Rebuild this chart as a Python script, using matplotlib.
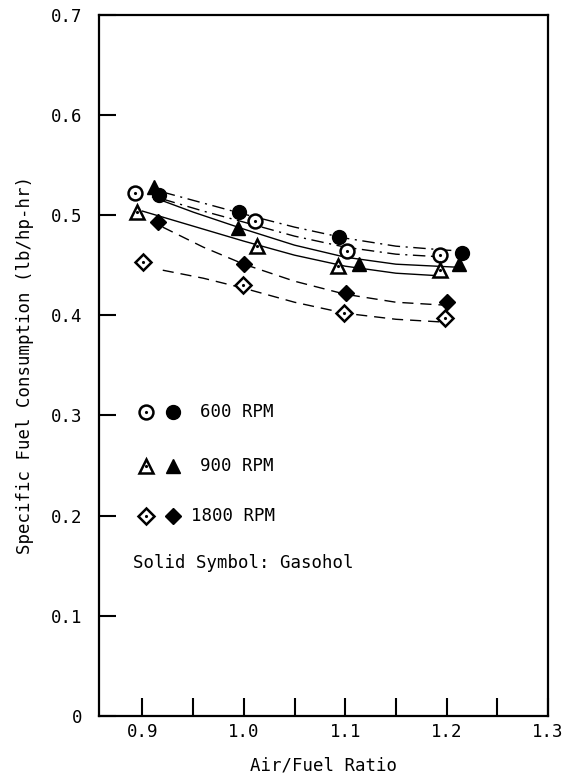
import matplotlib
matplotlib.use("Agg")
import matplotlib.pyplot as plt

plt.rcParams['font.family'] = ['DejaVu Sans Mono']

# measured points (air/fuel ratio, sfc)
x_600_gasoline = [0.893, 1.011, 1.102, 1.193]
y_600_gasoline = [0.522, 0.494, 0.464, 0.460]
x_600_gasohol = [0.916, 0.995, 1.094, 1.215]
y_600_gasohol = [0.520, 0.503, 0.478, 0.462]

x_900_gasoline = [0.895, 1.013, 1.093, 1.193]
y_900_gasoline = [0.503, 0.469, 0.449, 0.445]
x_900_gasohol = [0.911, 0.994, 1.114, 1.212]
y_900_gasohol = [0.528, 0.487, 0.451, 0.451]

x_1800_gasoline = [0.901, 0.999, 1.099, 1.198]
y_1800_gasoline = [0.453, 0.430, 0.402, 0.397]
x_1800_gasohol = [0.915, 1.000, 1.101, 1.200]
y_1800_gasohol = [0.493, 0.451, 0.422, 0.413]

# hand-drawn trend curves
cx_600_hol = [0.92, 0.96, 1.00, 1.05, 1.10, 1.15, 1.20, 1.22]
cy_600_hol = [0.523, 0.512, 0.501, 0.488, 0.477, 0.469, 0.465, 0.464]
cx_600_line = [0.92, 0.96, 1.00, 1.05, 1.10, 1.15, 1.20]
cy_600_line = [0.516, 0.504, 0.493, 0.479, 0.468, 0.461, 0.458]
cx_900_hol = [0.91, 0.95, 1.00, 1.05, 1.10, 1.15, 1.21]
cy_900_hol = [0.518, 0.503, 0.486, 0.470, 0.458, 0.451, 0.448]
cx_900_line = [0.90, 0.95, 1.00, 1.05, 1.10, 1.15, 1.20]
cy_900_line = [0.504, 0.489, 0.474, 0.460, 0.449, 0.442, 0.439]
cx_1800_hol = [0.92, 0.96, 1.00, 1.05, 1.10, 1.15, 1.20]
cy_1800_hol = [0.488, 0.468, 0.451, 0.434, 0.421, 0.413, 0.410]
cx_1800_line = [0.92, 0.96, 1.00, 1.05, 1.10, 1.15, 1.20]
cy_1800_line = [0.445, 0.437, 0.427, 0.413, 0.402, 0.396, 0.393]

legend_labels = ['600 RPM', '900 RPM', '1800 RPM']
legend_y = [0.303, 0.250, 0.200]
legend_markers = ['o', '^', 'D']

fs = 12.5

fig = plt.figure(figsize=(5.65, 7.79), dpi=100)
ax = fig.add_axes([0.175, 0.081, 0.795, 0.9])

dashdot = (0, (9, 4, 1.5, 4))
dashed = (0, (8, 5))

ax.plot(cx_600_hol, cy_600_hol, color='black', lw=1.0, ls=dashdot)
ax.plot(cx_600_line, cy_600_line, color='black', lw=1.0, ls=dashdot)
ax.plot(cx_900_hol, cy_900_hol, color='black', lw=1.0, ls='-')
ax.plot(cx_900_line, cy_900_line, color='black', lw=1.0, ls='-')
ax.plot(cx_1800_hol, cy_1800_hol, color='black', lw=1.0, ls=dashed)
ax.plot(cx_1800_line, cy_1800_line, color='black', lw=1.0, ls=dashed)


def open_pts(xs, ys, m, ms):
    ax.plot(xs, ys, ls='none', marker=m, ms=ms, mfc='white', mec='black', mew=1.8, zorder=5)
    ax.plot(xs, ys, ls='none', marker='.', ms=2.5, color='black', zorder=6)


def filled_pts(xs, ys, m, ms):
    ax.plot(xs, ys, ls='none', marker=m, ms=ms, color='black', zorder=5)


open_pts(x_600_gasoline, y_600_gasoline, 'o', 10)
filled_pts(x_600_gasohol, y_600_gasohol, 'o', 10)
open_pts(x_900_gasoline, y_900_gasoline, '^', 10)
filled_pts(x_900_gasohol, y_900_gasohol, '^', 10)
open_pts(x_1800_gasoline, y_1800_gasoline, 'D', 8)
filled_pts(x_1800_gasohol, y_1800_gasohol, 'D', 8)

# legend drawn in the plot area
for lab, yy, m in zip(legend_labels, legend_y, legend_markers):
    ms = 8 if m == 'D' else 10
    open_pts([0.903], [yy], m, ms)
    filled_pts([0.930], [yy], m, ms)
    tx = 0.948 if lab == '1800 RPM' else 0.957
    ax.text(tx, yy, lab, fontsize=fs, va='center', ha='left')
ax.text(0.891, 0.153, 'Solid Symbol: Gasohol', fontsize=fs, va='center', ha='left')

ax.set_xlim(0.857, 1.3)
ax.set_ylim(0, 0.7)
ax.set_xticks([0.9, 1.0, 1.1, 1.2, 1.3])
ax.set_xticklabels(['0.9', '1.0', '1.1', '1.2', '1.3'])
ax.set_xticks([0.95, 1.05, 1.15, 1.25], minor=True)
ax.set_yticks([0, 0.1, 0.2, 0.3, 0.4, 0.5, 0.6, 0.7])
ax.set_yticklabels(['0', '0.1', '0.2', '0.3', '0.4', '0.5', '0.6', '0.7'])
ax.tick_params(axis='x', which='both', direction='in', length=13, width=1.5, pad=5, labelsize=fs)
ax.tick_params(axis='y', direction='in', length=12, width=1.5, pad=12, labelsize=fs)

for s in ax.spines.values():
    s.set_linewidth(1.6)

ax.set_xlabel('Air/Fuel Ratio', fontsize=fs, labelpad=11)
ax.set_ylabel('Specific Fuel Consumption (lb/hp-hr)', fontsize=fs, labelpad=12)

fig.savefig('out.png', dpi=100)
